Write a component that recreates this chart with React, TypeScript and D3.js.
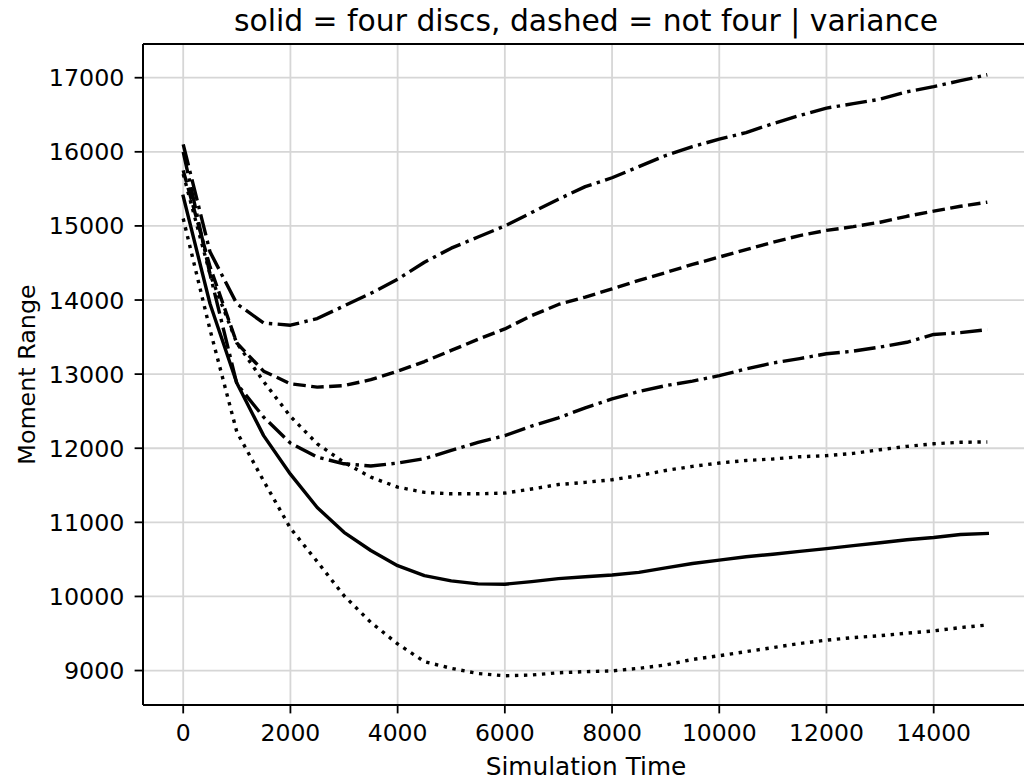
import * as d3 from "d3";
import React from "react";

const times = [
  0, 500, 1000, 1500, 2000, 2500, 3000, 3500, 4000, 4500, 5000, 5500, 6000, 6500, 7000, 7500,
  8000, 8500, 9000, 9500, 10000, 10500, 11000, 11500, 12000, 12500, 13000, 13500, 14000, 14500, 15000,
];

const topDashDot = [
  16100, 14650, 13950, 13690, 13660, 13750, 13920, 14090, 14280, 14510, 14700, 14850, 15000, 15180, 15360, 15530,
  15650, 15800, 15950, 16070, 16170, 16260, 16380, 16490, 16590, 16650, 16710, 16810, 16880, 16960, 17040,
];
const midDashed = [
  15750, 14450, 13420, 13040, 12870, 12825, 12845, 12925, 13040, 13170, 13320, 13470, 13610, 13790, 13940, 14040,
  14150, 14265, 14370, 14480, 14580, 14680, 14780, 14870, 14940, 14990, 15050, 15130, 15200, 15265, 15320,
];
const lowDashDot = [
  16000, 14350, 12870, 12420, 12070, 11880, 11790, 11760, 11800, 11860, 11970, 12080, 12170, 12300, 12410, 12545,
  12665, 12765, 12845, 12905, 12980, 13070, 13150, 13210, 13275, 13310, 13365, 13430, 13535, 13560, 13600,
];
const upperDotted = [
  15700, 14350, 13420, 12900, 12430, 12060, 11810, 11610, 11475, 11405, 11385, 11385, 11395, 11450, 11510, 11540,
  11575, 11630, 11700, 11755, 11800, 11835, 11855, 11885, 11900, 11930, 11980, 12025, 12060, 12080, 12085,
];
const solidFour = [
  15400, 13950, 12880, 12170, 11650, 11200, 10865, 10620, 10415, 10280, 10210, 10170, 10165, 10200, 10240, 10265,
  10290, 10325, 10385, 10445, 10490, 10535, 10570, 10608, 10645, 10685, 10725, 10765, 10795, 10835, 10850,
];
const lowerDotted = [
  15100, 13600, 12220, 11560, 10920, 10470, 10010, 9650, 9360, 9120, 9030, 8960, 8930, 8940, 8970, 8985,
  8995, 9030, 9075, 9150, 9200, 9255, 9310, 9365, 9410, 9445, 9470, 9505, 9535, 9580, 9615,
];

const xTicks = [0, 2000, 4000, 6000, 8000, 10000, 12000, 14000];
const yTicks = [9000, 10000, 11000, 12000, 13000, 14000, 15000, 16000, 17000];

const titleText = "solid = four discs, dashed = not four | variance";
const xLabel = "Simulation Time";
const yLabel = "Moment Range";

const lw = 3.4;
const dashStyles: Record<string, string | undefined> = {
  solid: undefined,
  dashed: `${3.7 * lw} ${1.6 * lw}`,
  dashdot: `${6.4 * lw} ${1.6 * lw} ${1 * lw} ${1.6 * lw}`,
  dotted: `${1 * lw} ${1.65 * lw}`,
};

const series = [
  { name: "top", values: topDashDot, style: "dashdot" },
  { name: "mid", values: midDashed, style: "dashed" },
  { name: "low", values: lowDashDot, style: "dashdot" },
  { name: "upperDot", values: upperDotted, style: "dotted" },
  { name: "solid", values: solidFour, style: "solid" },
  { name: "lowerDot", values: lowerDotted, style: "dotted" },
];

export default function App() {
  const width = 1024;
  const height = 784;
  const left = 143;
  const right = 1027.5;
  const top = 44;
  const bottom = 705;

  const x = d3.scaleLinear().domain([-750, 15750]).range([left, right]);
  const y = d3.scaleLinear().domain([8535, 17455]).range([bottom, top]);

  const line = d3
    .line<number>()
    .x((_, i) => x(times[i]))
    .y((d) => y(d));

  const font = "'DejaVu Sans', sans-serif";

  return (
    <div style={{ position: "fixed", left: 0, top: 0 }}>
      <svg width={width} height={height} style={{ display: "block", background: "#fff" }} fontFamily={font}>
        {/* grid */}
        {xTicks.map((t) => (
          <line key={"gx" + t} x1={x(t)} x2={x(t)} y1={top} y2={bottom} stroke="#d6d6d6" strokeWidth={1.8} />
        ))}
        {yTicks.map((t) => (
          <line key={"gy" + t} x1={left} x2={right} y1={y(t)} y2={y(t)} stroke="#d6d6d6" strokeWidth={1.8} />
        ))}

        {/* lines */}
        <g>
          {series.map((s) => (
            <path
              key={s.name}
              d={line(s.values) ?? ""}
              fill="none"
              stroke="#000"
              strokeWidth={lw}
              strokeDasharray={dashStyles[s.style]}
              strokeLinejoin="round"
              strokeLinecap={s.style === "solid" ? "square" : "butt"}
            />
          ))}
        </g>

        {/* spines */}
        <line x1={left} x2={left} y1={top} y2={bottom} stroke="#000" strokeWidth={2} />
        <line x1={left} x2={right} y1={bottom} y2={bottom} stroke="#000" strokeWidth={2} />
        <line x1={left} x2={right} y1={top} y2={top} stroke="#000" strokeWidth={2} />

        {/* x ticks */}
        {xTicks.map((t) => (
          <g key={"xt" + t}>
            <line x1={x(t)} x2={x(t)} y1={bottom} y2={bottom + 8.4} stroke="#000" strokeWidth={1.8} />
            <text x={x(t)} y={741} textAnchor="middle" fontSize={23.5} fill="#000">
              {t}
            </text>
          </g>
        ))}

        {/* y ticks */}
        {yTicks.map((t) => (
          <g key={"yt" + t}>
            <line x1={left - 8.4} x2={left} y1={y(t)} y2={y(t)} stroke="#000" strokeWidth={1.8} />
            <text x={124.5} y={y(t)} dy="0.36em" textAnchor="end" fontSize={23.8} fill="#000">
              {t}
            </text>
          </g>
        ))}

        {/* labels */}
        <text x={586} y={775} textAnchor="middle" fontSize={24.8} fill="#000">
          {xLabel}
        </text>
        <text
          transform={`translate(35, ${(top + bottom) / 2}) rotate(-90)`}
          textAnchor="middle"
          fontSize={23.8}
          fill="#000"
        >
          {yLabel}
        </text>
        <text x={586} y={31} textAnchor="middle" fontSize={29.8} fill="#000">
          {titleText}
        </text>
      </svg>
    </div>
  );
}
